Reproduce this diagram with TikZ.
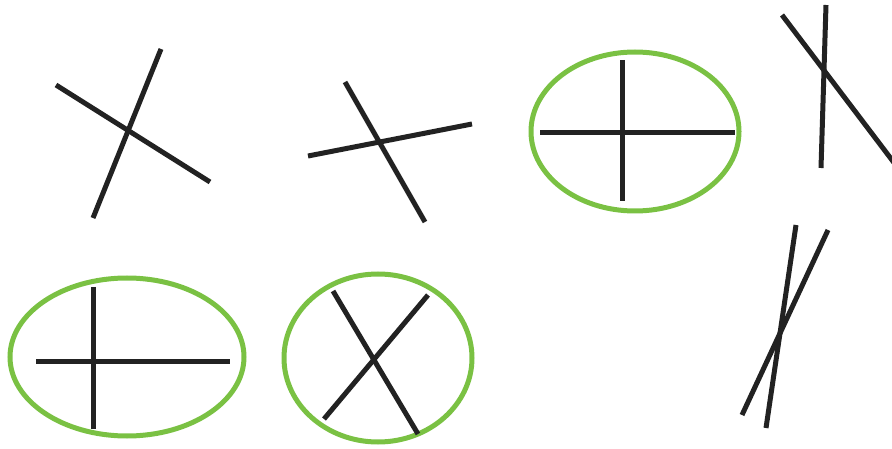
\documentclass[tikz,border=0pt]{standalone}
\definecolor{ink}{HTML}{222222}
\definecolor{leaf}{HTML}{7AC143}
\begin{document}
\begin{tikzpicture}[x=1pt,y=-1pt,
  stick/.style={draw=ink,line width=5pt},
  ring/.style={draw=leaf,line width=5pt}]
\useasboundingbox (0,0) rectangle (892,449);
% 1
\draw[stick] (56,85) -- (210,182);
\draw[stick] (161,49) -- (93,218);
% 2
\draw[stick] (345,82) -- (425,222);
\draw[stick] (308,156) -- (472,124);
% 3
\draw[ring] (635,131.5) ellipse [x radius=104, y radius=79.5];
\draw[stick] (540,133) -- (735,133);
\draw[stick] (622,60) -- (622,201);
% 4
\draw[stick] (782,15) -- (895,164);
\draw[stick] (826,5) -- (821,168);
% 5
\draw[ring] (127,357) ellipse [x radius=117, y radius=79];
\draw[stick] (36,361) -- (230,361);
\draw[stick] (93,287) -- (93,429);
% 6
\draw[ring] (378,358) ellipse [x radius=94, y radius=84];
\draw[stick] (333,291) -- (418,434);
\draw[stick] (428,295) -- (324,419);
% 7
\draw[stick] (796,225) -- (766,428);
\draw[stick] (828,230) -- (742,415);
\end{tikzpicture}
\end{document}
